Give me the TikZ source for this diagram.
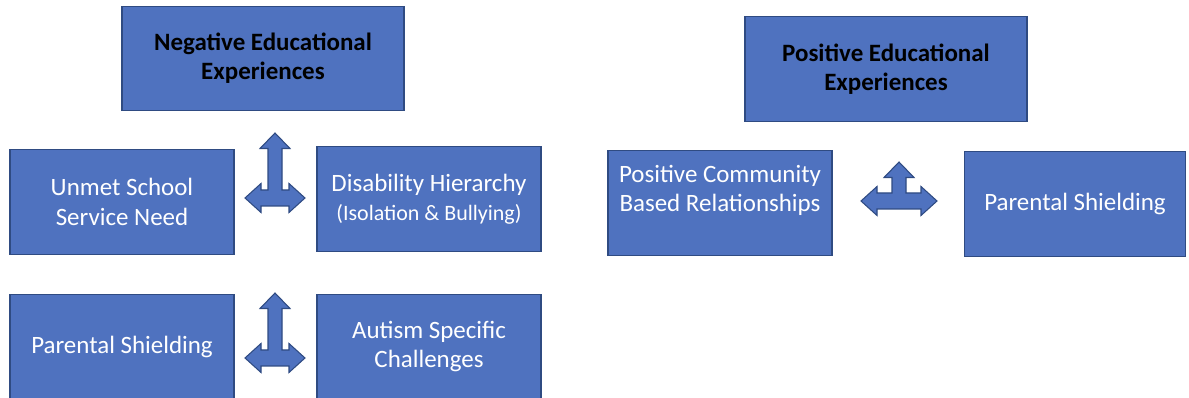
\documentclass[tikz,border=0pt]{standalone}
\usepackage{fontspec}
\setmainfont{Carlito}
\usepackage{tikz}
\definecolor{boxblue}{RGB}{79,114,191}
\definecolor{boxline}{RGB}{47,75,130}

\begin{document}
\begin{tikzpicture}[scale=0.2]
\tikzstyle{every node}+=[inner sep=0pt]
\tikzstyle{box}=[draw=boxline, fill=boxblue, line width=0.6pt, text=white, align=center, font=\fontsize{14.2}{16.6}\selectfont, minimum width=4.48cm, minimum height=2.09cm]
\tikzstyle{head}=[box, text=black, font=\fontsize{14.2}{16.6}\selectfont\bfseries, minimum width=5.64cm]
\tikzstyle{arrowshape}=[draw=boxline, fill=boxblue, line width=0.6pt, line join=miter]
\tikzset{pics/triarrow/.style 2 args={code={
\filldraw[arrowshape] (-#1,0) -- (-#1+1.6,1.45) -- (-#1+1.6,0.8) -- (-0.7,0.8) -- (-0.7,#2-1.55) -- (-1.5,#2-1.55) -- (0,#2) -- (1.5,#2-1.55) -- (0.7,#2-1.55) -- (0.7,0.8) -- (#1-1.6,0.8) -- (#1-1.6,1.45) -- (#1,0) -- (#1-1.6,-1.45) -- (#1-1.6,-0.8) -- (-#1+1.6,-0.8) -- (-#1+1.6,-1.45) -- cycle;
}}}
\useasboundingbox (0,0) rectangle (118.9,-39.8);
\node[head] (neg) at (26.3,-5.85) {Negative Educational\\Experiences};
\node[box] (unmet) at (12.2,-20.2) {Unmet School\\Service Need};
\node[box] (disab) at (42.9,-19.9) {Disability Hierarchy\\{\fontsize{12.5}{14.5}\selectfont(Isolation \& Bullying)}};
\node[box] (parL) at (12.2,-34.65) {Parental Shielding};
\node[box] (autism) at (42.9,-34.65) {Autism Specific\\Challenges};
\pic[transform shape] (arrA) at (27.5,-19.8) {triarrow={3.0}{6.5}};
\pic[transform shape] (arrB) at (27.5,-35.8) {triarrow={3.0}{6.5}};
\node[head] (pos) at (88.6,-6.9) {Positive Educational\\Experiences};
\node[box] (pcbr) at (72.0,-20.3) {Positive Community\\Based Relationships\\\mbox{}};
\node[box, minimum width=4.42cm] (parR) at (107.5,-20.4) {Parental Shielding};
\pic[transform shape] (arrC) at (89.9,-20.1) {triarrow={3.8}{3.9}};
\end{tikzpicture}
\end{document}
